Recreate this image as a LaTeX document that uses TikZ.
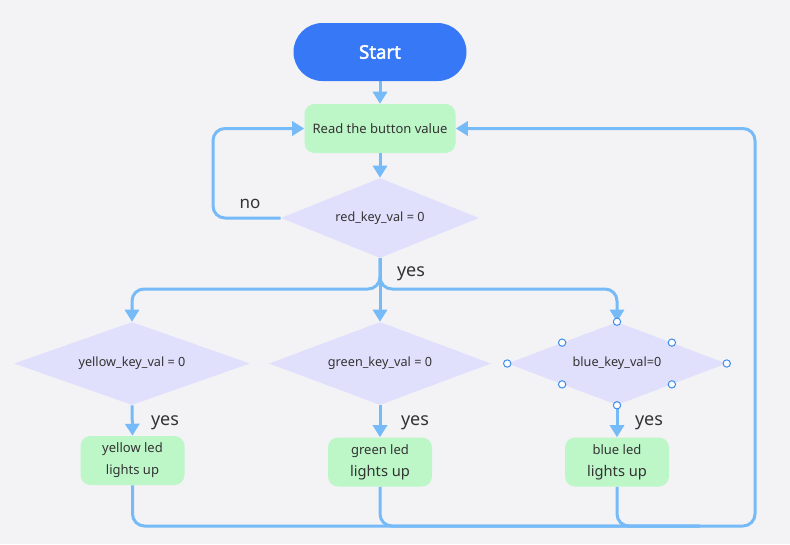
\documentclass[tikz,border=0pt]{standalone}
\usepackage{fontspec}
\setmainfont{Noto Sans}
\newfontfamily\startfont{Noto Sans}[FakeBold=2.2]
\usetikzlibrary{shapes.geometric,arrows.meta,calc}
\definecolor{bg}{HTML}{F3F3F6}
\definecolor{startblue}{HTML}{3678F6}
\definecolor{lineblue}{HTML}{76BBF7}
\definecolor{boxgreen}{HTML}{BDF7C8}
\definecolor{lav}{HTML}{E0E0FD}
\definecolor{txt}{HTML}{333333}
\definecolor{handle}{HTML}{3C8CF0}
\tikzset{
  startbox/.style={rectangle, rounded corners=21.75pt, fill=startblue, text=white,
    minimum width=129.75pt, minimum height=43.5pt, font=\startfont\fontsize{14pt}{16pt}\selectfont},
  procbox/.style={rectangle, rounded corners=7.5pt, fill=boxgreen, text=txt,
    minimum height=36.75pt, inner sep=0pt, align=center},
  decis/.style={diamond, fill=lav, text=txt, inner sep=0pt, aspect=2.5,
    font=\fontsize{9.5pt}{11pt}\selectfont},
  conn/.style={draw=lineblue, line width=2.25pt, rounded corners=9pt},
  arr/.style={-{Triangle[width=10.5pt,length=9pt]}},
  lbl/.style={text=txt, font=\fontsize{13.5pt}{15pt}\selectfont, inner sep=0pt},
  hdl/.style={circle, draw=handle, fill=white, line width=0.75pt, minimum size=5.5pt, inner sep=0pt},
}
\begin{document}
\begin{tikzpicture}[x=0.75pt, y=-0.75pt]
\fill[bg] (0,0) rectangle (790,544);
\useasboundingbox (0,0) rectangle (790,544);

\node[startbox] (start) at (380,52) {Start};
\node[procbox, minimum width=113.25pt, font=\fontsize{9.75pt}{12pt}\selectfont] (read) at (380,128.5) {Read the button value};
\node[decis, minimum width=148.5pt, minimum height=60pt] (red) at (380,218) {red\_key\_val = 0};

\node[decis, minimum width=177pt, minimum height=62.25pt] (yel) at (132,363.5) {yellow\_key\_val = 0};
\node[decis, minimum width=166.5pt, minimum height=62.25pt] (grn) at (380,363.5) {green\_key\_val = 0};
\node[decis, minimum width=164.25pt, minimum height=62.25pt] (blu) at (617,363.5) {blue\_key\_val=0};

\node[procbox, minimum width=78pt, font=\fontsize{9.75pt}{15pt}\selectfont] (yled) at (132.5,460.5) {yellow led\\[1.5pt]lights up};
\node[procbox, minimum width=78pt, font=\fontsize{9.75pt}{15pt}\selectfont] (gled) at (380,462) {green led\\[1.5pt]{\fontsize{11pt}{15pt}\selectfont lights up}};
\node[procbox, minimum width=78pt, font=\fontsize{9.75pt}{15pt}\selectfont] (bled) at (617,462) {blue led\\[1.5pt]{\fontsize{11pt}{15pt}\selectfont lights up}};

\coordinate (sp) at (380,289);
\coordinate (nl) at (213,218);
\coordinate (rc) at (755,526);
\coordinate (rj) at (700,526);

% main flow
\draw[conn, arr] (start) -- (read);
\draw[conn, arr] (read) -- (red);
\draw[conn, arr] (red.west) -- (nl) |- (read.west);
\draw[conn, arr] (red.south) -- (sp) -| (yel.north);
\draw[conn, arr] (red.south) -- (grn.north);
\draw[conn, arr] (red.south) -- (sp) -| (blu.north);

\draw[conn, arr] (yel.south) -- (yled.north);
\draw[conn, arr] (grn.south) -- (gled.north);
\draw[conn, arr] (blu.south) -- (bled.north);

% return
\draw[conn, arr] (yled.south) |- (rc) |- (read.east);
\draw[conn] (gled.south) |- (rj);
\draw[conn] (bled.south) |- (rj);

% labels
\node[lbl, font=\fontsize{12.75pt}{14pt}\selectfont] (no) at (250,204) {no};
\node[lbl] (yes0) at (411,274) {yes};
\node[lbl] (yes1) at (165,423) {yes};
\node[lbl] (yes2) at (415,423) {yes};
\node[lbl] (yes3) at (649,423) {yes};

% selection handles on blue diamond
\node[hdl] (h1) at (blu.north) {};
\node[hdl] (h2) at (blu.south) {};
\node[hdl] (h3) at (blu.east) {};
\node[hdl] (h4) at (blu.west) {};
\node[hdl] (h5) at ($(blu.north)!0.5!(blu.west)$) {};
\node[hdl] (h6) at ($(blu.north)!0.5!(blu.east)$) {};
\node[hdl] (h7) at ($(blu.south)!0.5!(blu.west)$) {};
\node[hdl] (h8) at ($(blu.south)!0.5!(blu.east)$) {};
\end{tikzpicture}
\end{document}
